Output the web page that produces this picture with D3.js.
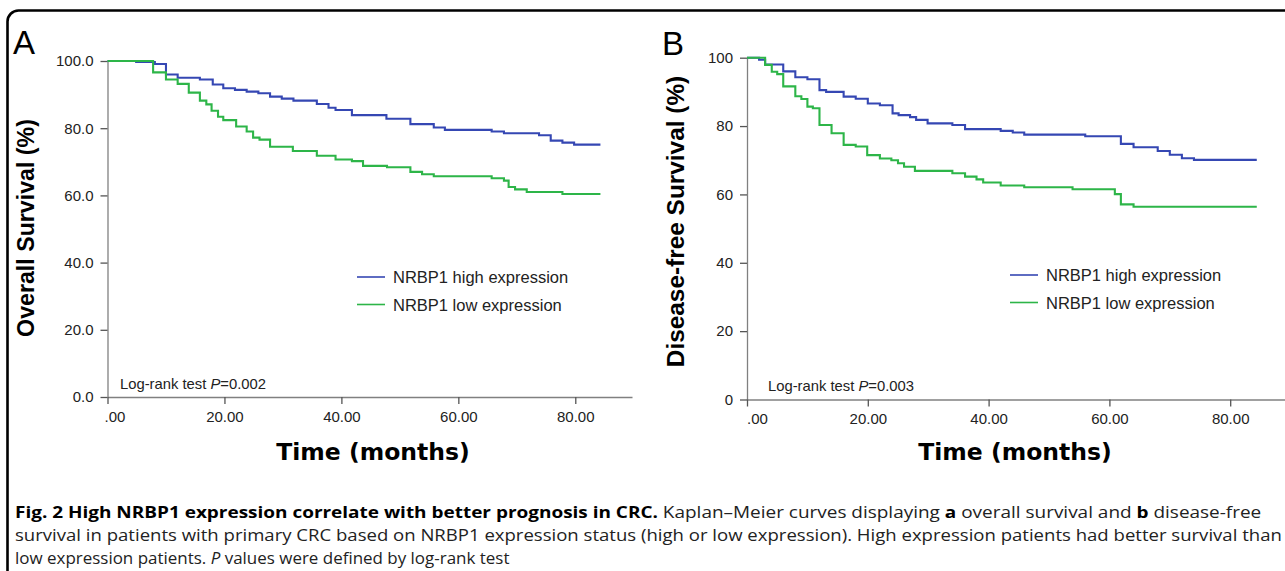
<!DOCTYPE html>
<html>
<head>
<meta charset="utf-8">
<script src="https://cdn.jsdelivr.net/npm/d3@7"></script>
<style>
  html, body { margin: 0; padding: 0; background: #fff; }
  svg { display: block; }
</style>
</head>
<body>
<svg id="chart" width="1285" height="571"></svg>
<script>
// ---------------- data ----------------
const xTickValues = [0, 20, 40, 60, 80];
const xTickLabels = [".00", "20.00", "40.00", "60.00", "80.00"];
const yTickValues = [0, 20, 40, 60, 80, 100];
const yTickLabelsA = ["0.0", "20.0", "40.0", "60.0", "80.0", "100.0"];
const yTickLabelsB = ["0", "20", "40", "60", "80", "100"];
const seriesNames = ["NRBP1 high expression", "NRBP1 low expression"];
const panelLetters = ["A", "B"];
const yTitles = ["Overall Survival (%)", "Disease-free Survival (%)"];
const xTitle = "Time (months)";
const pValues = ["0.002", "0.003"];

// Panel A – overall survival (Kaplan–Meier steps: time in months, survival %)
const osHighTime = [0, 4.9, 8.1, 10.0, 12.0, 15.8, 18.0, 19.8, 21.8, 23.8, 25.8, 27.8, 29.8, 31.8, 35.8, 37.8, 39.0, 41.8, 47.7, 51.8, 55.8, 57.7, 65.7, 67.8, 73.8, 75.8, 77.8, 79.8, 84.3];
const osHighSurv = [100, 99.7, 99.1, 96.0, 95.0, 94.5, 93.0, 91.9, 91.4, 90.9, 90.4, 89.4, 88.8, 88.2, 87.2, 86.1, 85.4, 83.9, 82.8, 81.2, 80.2, 79.5, 79.0, 78.5, 77.9, 76.3, 75.7, 75.1, 75.1];
const osLowTime = [0, 7.8, 10.0, 12.0, 13.9, 15.8, 16.9, 17.8, 18.9, 19.8, 22.0, 23.8, 24.9, 26.0, 27.8, 31.7, 35.8, 39.0, 41.8, 43.7, 47.8, 51.8, 53.8, 55.8, 65.7, 67.8, 68.6, 69.7, 71.7, 77.8, 84.3];
const osLowSurv = [100, 96.6, 94.5, 93.2, 90.6, 88.2, 87.1, 85.2, 83.4, 82.4, 80.5, 79.0, 77.2, 76.6, 74.5, 73.2, 71.8, 70.7, 70.2, 68.8, 68.4, 67.0, 66.3, 65.7, 65.1, 64.4, 62.5, 61.8, 61.0, 60.4, 60.4];

// Panel B – disease-free survival
const dfsHighTime = [0, 2.0, 3.0, 6.0, 8.0, 10.0, 12.0, 13.1, 16.0, 18.0, 20.0, 22.0, 24.1, 25.1, 27.0, 28.0, 29.9, 34.0, 36.1, 42.0, 44.0, 45.9, 56.0, 61.9, 64.0, 68.0, 70.0, 72.0, 74.0, 84.4];
const dfsHighSurv = [100, 99.4, 98.0, 96.0, 94.3, 93.7, 90.5, 90.0, 88.6, 88.0, 86.6, 86.1, 83.7, 83.2, 82.6, 81.8, 80.8, 80.3, 79.1, 78.6, 78.1, 77.5, 77.0, 74.8, 73.8, 72.7, 71.6, 70.6, 70.1, 70.1];
const dfsLowTime = [0, 3.0, 4.1, 5.0, 6.0, 8.0, 9.0, 10.0, 10.9, 12.0, 14.0, 16.0, 18.0, 19.9, 22.0, 23.9, 25.0, 26.0, 27.8, 34.0, 36.1, 38.0, 39.1, 42.0, 45.9, 53.9, 60.9, 61.9, 64.0, 84.4];
const dfsLowSurv = [100, 97.9, 95.9, 95.2, 91.6, 88.7, 87.9, 85.7, 85.2, 80.3, 77.9, 74.5, 74.0, 71.5, 70.5, 70.0, 69.1, 68.1, 66.9, 66.2, 65.2, 64.4, 63.5, 62.6, 62.1, 61.5, 60.1, 57.1, 56.4, 56.4];

const captionLines = [
  [{t: "Fig. 2 High NRBP1 expression correlate with better prognosis in CRC.", w: "bold"}, {t: " Kaplan–Meier curves displaying "}, {t: "a", w: "bold"}, {t: " overall survival and "}, {t: "b", w: "bold"}, {t: " disease-free"}],
  [{t: "survival in patients with primary CRC based on NRBP1 expression status (high or low expression). High expression patients had better survival than"}],
  [{t: "low expression patients. "}, {t: "P", s: "italic"}, {t: " values were defined by log-rank test"}]
];

// ---------------- drawing ----------------
const colors = ["#3547b3", "#2db548"];
const svg = d3.select("#chart");
svg.append("rect").attr("width", 1285).attr("height", 571).attr("fill", "#fff");

// card border
svg.append("rect")
  .attr("x", 7.5).attr("y", 10.5).attr("width", 1320).attr("height", 620)
  .attr("rx", 11).attr("fill", "none").attr("stroke", "#000").attr("stroke-width", 2.6);

const panels = [
  {x0: 107.5, x1: 632, xMax: 89.7, yTop: 61, yBot: 397, yLabels: yTickLabelsA,
   high: [osHighTime, osHighSurv], low: [osLowTime, osLowSurv],
   letterX: 13, letterY: 54, ytX: 34, ytY: 228, ytSize: 23.2, xtX: 373, xtY: 460,
   legX: 357, legY: 277, pX: 120, pY: 389, zeroDx: 7},
  {x0: 747, x1: 1290, xMax: 89.9, yTop: 57.7, yBot: 399.5, yLabels: yTickLabelsB,
   high: [dfsHighTime, dfsHighSurv], low: [dfsLowTime, dfsLowSurv],
   letterX: 662, letterY: 55, ytX: 684, ytY: 221.5, ytSize: 24.4, xtX: 1015, xtY: 460,
   legX: 1010, legY: 275, pX: 768, pY: 391, zeroDx: 10}
];

panels.forEach((p, i) => {
  const g = svg.append("g");
  const x = d3.scaleLinear().domain([0, p.xMax]).range([p.x0, p.x1]);
  const y = d3.scaleLinear().domain([0, 100]).range([p.yBot, p.yTop]);

  const ya = g.append("g").attr("transform", `translate(${p.x0},0)`)
    .call(d3.axisLeft(y).tickValues(yTickValues).tickFormat((d, k) => p.yLabels[k]).tickSize(7).tickSizeOuter(0).tickPadding(7));
  const xa = g.append("g").attr("transform", `translate(0,${p.yBot})`)
    .call(d3.axisBottom(x).tickValues(xTickValues).tickFormat((d, k) => xTickLabels[k]).tickSize(7).tickSizeOuter(0).tickPadding(7));
  [ya, xa].forEach(a => {
    a.select(".domain").attr("stroke", "#808080").attr("stroke-width", 1.3);
    a.selectAll(".tick line").attr("stroke", "#555").attr("stroke-width", 1.3);
    a.selectAll(".tick text").attr("fill", "#222").style("font-family", "'Liberation Sans', Arial, sans-serif").style("font-size", "15px");
  });
  xa.selectAll(".tick text").filter((d) => d === 0).attr("dx", p.zeroDx);

  const line = d3.line().curve(d3.curveStepAfter).x(d => x(d[0])).y(d => y(d[1]));
  [p.high, p.low].forEach((s, k) => {
    const pts = s[0].map((t, j) => [t, s[1][j]]);
    g.append("path").datum(pts).attr("d", line).attr("fill", "none")
      .attr("stroke", colors[k]).attr("stroke-width", 2.1);
  });

  seriesNames.forEach((name, k) => {
    const ly = p.legY + k * 27.5;
    g.append("line").attr("x1", p.legX).attr("x2", p.legX + 28).attr("y1", ly).attr("y2", ly)
      .attr("stroke", colors[k]).attr("stroke-width", 1.6);
    g.append("text").attr("x", p.legX + 36).attr("y", ly + 6)
      .style("font-family", "'Liberation Sans', Arial, sans-serif").style("font-size", "16.5px").attr("fill", "#222")
      .text(name);
  });

  const pt = g.append("text").attr("x", p.pX).attr("y", p.pY)
    .style("font-family", "'Liberation Sans', Arial, sans-serif").style("font-size", "14.8px").attr("fill", "#222");
  pt.append("tspan").text("Log-rank test ");
  pt.append("tspan").style("font-style", "italic").text("P");
  pt.append("tspan").text("=" + pValues[i]);

  g.append("text").attr("x", p.letterX).attr("y", p.letterY)
    .style("font-family", "'Liberation Sans', Arial, sans-serif").style("font-size", "33px").attr("fill", "#000")
    .text(panelLetters[i]);

  g.append("text").attr("transform", `translate(${p.ytX},${p.ytY}) rotate(-90)`).attr("text-anchor", "middle")
    .style("font-family", "'Liberation Sans', Arial, sans-serif").style("font-weight", "bold").style("font-size", p.ytSize + "px")
    .attr("fill", "#000").text(yTitles[i]);

  g.append("text").attr("x", p.xtX).attr("y", p.xtY).attr("text-anchor", "middle")
    .style("font-family", "'DejaVu Sans', sans-serif").style("font-weight", "bold").style("font-size", "23.5px")
    .attr("fill", "#000").text(xTitle);
});

// caption: natural text squeezed horizontally to the reference line widths
const capW = [1247, 1268, 495];
captionLines.forEach((ln, i) => {
  const t = svg.append("text").attr("x", 0).attr("y", 0)
    .style("font-family", "'Open Sans', sans-serif").style("font-size", "16.5px").attr("fill", "#222");
  ln.forEach(seg => {
    const ts = t.append("tspan").text(seg.t);
    if (seg.w) ts.style("font-weight", seg.w).attr("fill", "#000");
    if (seg.s) ts.style("font-style", seg.s);
  });
  const natural = t.node().getComputedTextLength();
  const sx = natural > 0 ? capW[i] / natural : 1;
  t.attr("transform", `translate(15,${518 + i * 23}) scale(${sx},1)`);
});
</script>
</body>
</html>
